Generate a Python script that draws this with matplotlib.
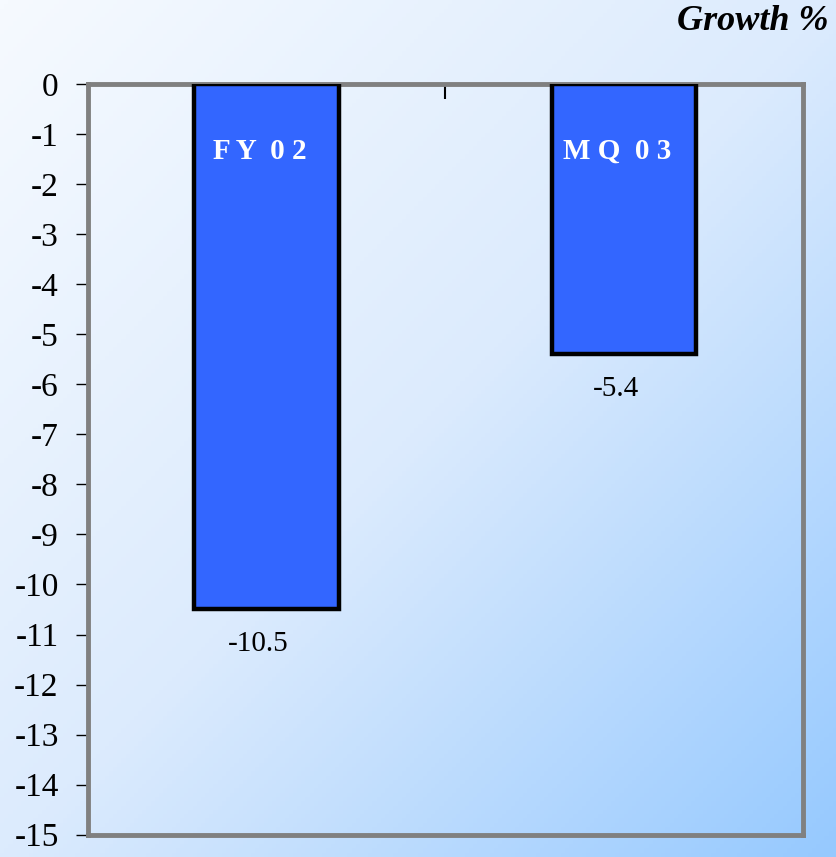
import matplotlib
matplotlib.use("Agg")
import matplotlib.pyplot as plt
import numpy as np
from matplotlib.colors import LinearSegmentedColormap

# growth % bar chart, negative bars hanging from zero line

CATEGORIES = ["F Y  0 2", "M Q  0 3"]
VALUES = [-10.5, -5.4]
VALUE_LABELS = ["-10.5", "-5.4"]
Y_TICKS = list(range(0, -16, -1))
TITLE = "Growth %"

BAR_COLOR = "#3366FF"
SERIF = ["Liberation Serif", "DejaVu Serif"]


def main() -> None:
    fig = plt.figure(figsize=(8.37, 8.57), dpi=100)

    # diagonal background gradient, near white top-left to light blue bottom-right
    bg = fig.add_axes([0, 0, 1, 1], zorder=-10)
    yy, xx = np.mgrid[0:1:200j, 0:1:200j]
    grad = (xx + yy) / 2.0
    cmap = LinearSegmentedColormap.from_list("bg", ["#F6FAFF", "#DCEBFD", "#96C9FF"])
    bg.imshow(grad, cmap=cmap, aspect="auto", origin="upper", extent=[0, 1, 0, 1])
    bg.axis("off")

    ax = fig.add_axes([0.105, 0.026, 0.854, 0.876])
    ax.patch.set_alpha(0)
    x = np.arange(len(CATEGORIES))
    ax.bar(x, VALUES, width=0.405, color=BAR_COLOR, edgecolor="black", linewidth=3.2, zorder=3)

    ax.set_xlim(-0.5, len(CATEGORIES) - 0.5)
    ax.set_ylim(-15, 0)
    ax.set_yticks(Y_TICKS)
    ax.set_yticklabels([str(t) for t in Y_TICKS], fontfamily=SERIF, fontsize=24)
    ax.tick_params(axis="y", direction="out", length=9, width=1, pad=12, colors="black")

    # category boundary ticks on the zero line
    ax.xaxis.tick_top()
    ax.set_xticks(np.arange(-0.5, len(CATEGORIES)))
    ax.set_xticklabels([])
    ax.tick_params(axis="x", direction="in", length=11, width=1.5)

    for sp in ax.spines.values():
        sp.set_color("#808080")
        sp.set_linewidth(3.5)
    ax.axhline(0, color="#222222", lw=1.0, zorder=2)
    ax.axvline(-0.5, color="#333333", lw=0.8, zorder=2)

    for xi, cat in zip(x, CATEGORIES):
        ax.annotate(cat, (xi, -1.35), xytext=(-7, 0), textcoords="offset pixels",
                    ha="center", va="center", color="white", fontfamily=SERIF,
                    fontweight="bold", fontsize=21, zorder=4)

    for xi, v, lab in zip(x, VALUES, VALUE_LABELS):
        ax.annotate(lab, (xi, v), xytext=(-8, -35), textcoords="offset pixels",
                    ha="center", va="center", fontfamily=SERIF, fontsize=21, zorder=4)

    fig.text(0.99, 0.975, TITLE, ha="right", va="center", fontfamily=SERIF,
             fontweight="bold", fontstyle="italic", fontsize=26)

    fig.savefig("out.png", dpi=100)


if __name__ == "__main__":
    main()
